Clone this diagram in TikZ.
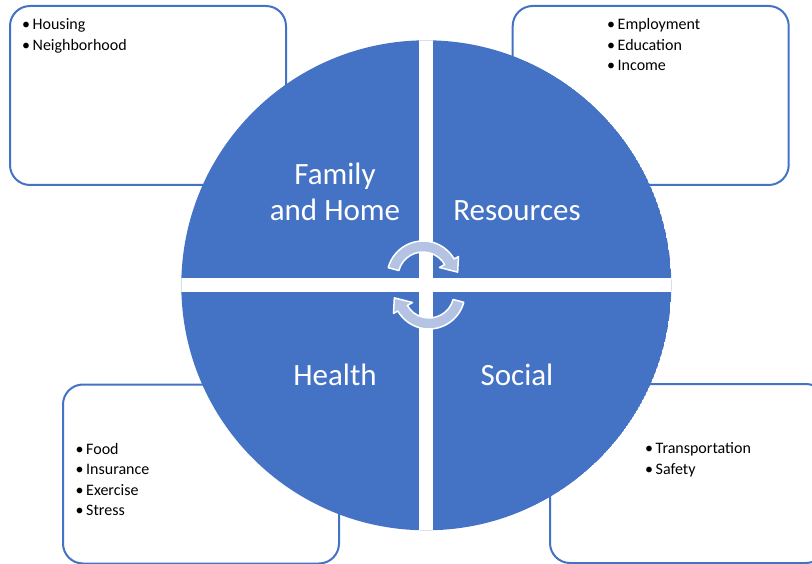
\documentclass[tikz,border=0pt]{standalone}
\usepackage{fontspec}
\setmainfont{Carlito}
\definecolor{smartblue}{HTML}{4472C4}
\definecolor{arrowfill}{HTML}{B4C3E4}
\newcommand{\bitem}[1]{\makebox[10.5pt][l]{\textbullet}#1}
\newcommand{\blist}[1]{\begin{tabular}[t]{@{}l@{}}#1\end{tabular}}
\begin{document}
\begin{tikzpicture}[x=1pt, y=-1pt,
  infobox/.style={shape=rectangle, draw=smartblue, line width=2pt, rounded corners=20pt,
    minimum width=276pt, minimum height=179pt, inner sep=0pt, fill=white},
  listtext/.style={anchor=base west, inner sep=0pt, text=black,
    font=\fontsize{16}{20.5}\selectfont},
  quadlabel/.style={text=white, align=center, inner sep=0pt,
    font=\fontsize{31}{36}\selectfont},
  cyclearrow/.style={fill=arrowfill, draw=white, line width=1.5pt, line join=round}]
\clip (0,0) rectangle (812,564);
% outer boxes
\node[infobox] (homebox) at (148,95.5) {};
\node[infobox] (resbox) at (650.7,95.5) {};
\node[infobox] (healthbox) at (201,474) {};
\node[infobox] (socialbox) at (688,473.5) {};
% lists
\node[listtext] (homelist) at (22,30) {\blist{\bitem{Housing}\\ \bitem{Neighborhood}}};
\node[listtext] (reslist) at (607,30) {\blist{\bitem{Employment}\\ \bitem{Education}\\ \bitem{Income}}};
\node[listtext] (healthlist) at (75.5,454) {\blist{\bitem{Food}\\ \bitem{Insurance}\\ \bitem{Exercise}\\ \bitem{Stress}}};
\node[listtext] (sociallist) at (645,453.5) {\blist{\bitem{Transportation}\\ \bitem{Safety}}};
% the circle in four parts
\begin{scope}
\clip (426.3,285.3) circle[radius=245];
\fill[smartblue] (426.3,285.3) circle[radius=245];
\fill[white] (419.3,30) rectangle (433.3,540);
\fill[white] (170,278.3) rectangle (680,292.3);
\end{scope}
\node[quadlabel, anchor=base] (home) at (335,220.7) {Family\\and Home};
\node[quadlabel, anchor=base] (resources) at (517,220.7) {Resources};
\node[quadlabel, anchor=base] (health) at (335,385) {Health};
\node[quadlabel, anchor=base] (social) at (517,385) {Social};
% cycle arrows
\filldraw[cyclearrow, shift={(423,277)}] (195:36) arc[start angle=195, end angle=330, radius=36]
  -- (330:41) -- (352:35) -- (330:19) -- (330:25) arc[start angle=330, end angle=195, radius=25] -- cycle;
\filldraw[cyclearrow, shift={(429,293)}] (15:36) arc[start angle=15, end angle=150, radius=36]
  -- (150:41) -- (172:35) -- (150:19) -- (150:25) arc[start angle=150, end angle=15, radius=25] -- cycle;
\end{tikzpicture}
\end{document}
